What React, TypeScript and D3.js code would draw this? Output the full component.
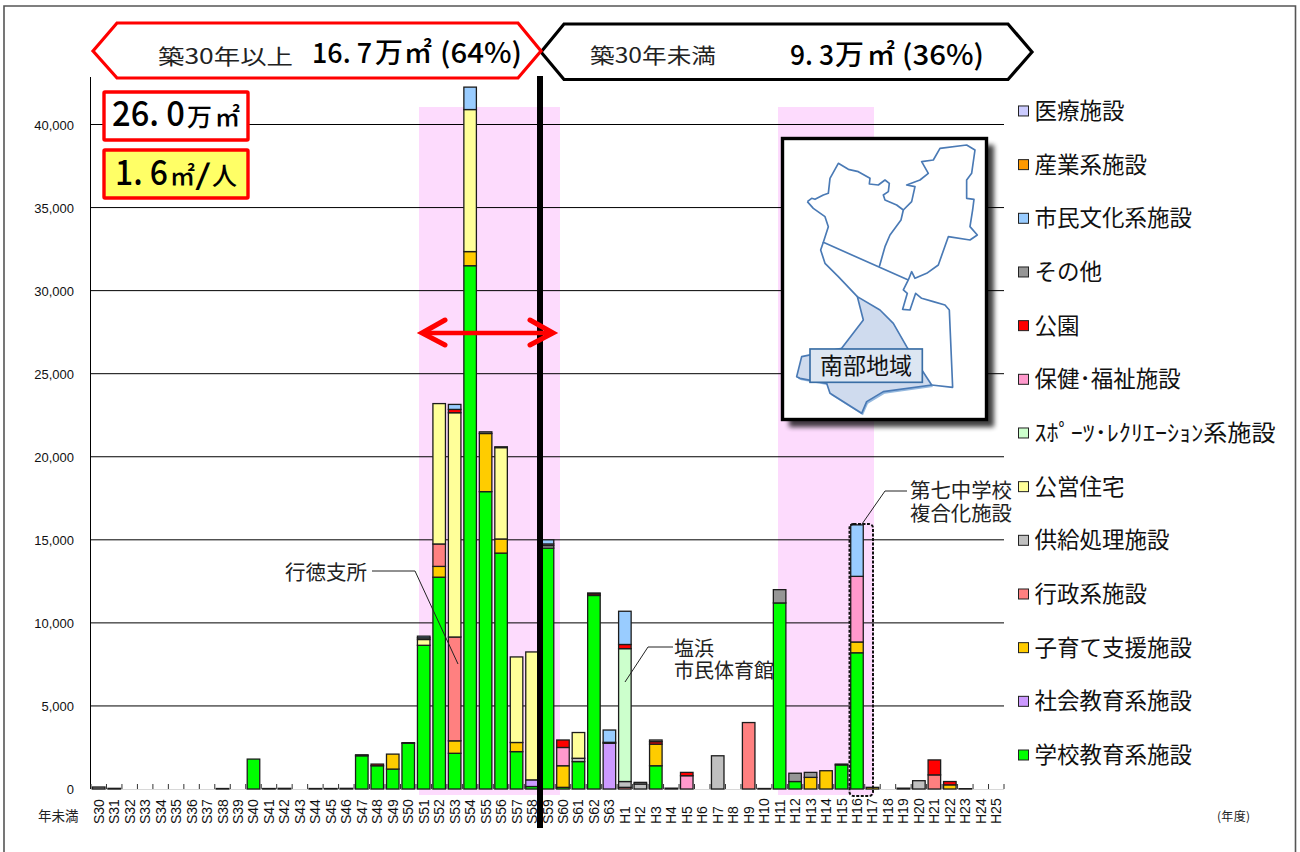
import React from "react";
import * as d3 from "d3";

const WIDTH = 1300;
const HEIGHT = 852;

// Fiscal years of construction: Showa 30-63, then Heisei 1-25.
const showaYears = d3.range(30, 64).map((n) => `S${n}`);
const heiseiYears = d3.range(1, 26).map((n) => `H${n}`);
const fiscalYears = [...showaYears, ...heiseiYears];

type Entry = [string, number];

// Floor area (m2) per fiscal year for each facility type.
const schoolEducation: Entry[] = [["S40", 1800], ["S47", 2000], ["S48", 1400], ["S49", 1200], ["S50", 2750], ["S51", 8650], ["S52", 12750], ["S53", 2150], ["S54", 31500], ["S55", 17900], ["S56", 14200], ["S57", 2250], ["S58", 150], ["S59", 14500], ["S60", 100], ["S61", 1650], ["S62", 11650], ["H3", 1400], ["H11", 11200], ["H12", 450], ["H15", 1450], ["H16", 8200]];
const socialEducation: Entry[] = [["S58", 400], ["S63", 2750]];
const childcare: Entry[] = [["S49", 900], ["S52", 650], ["S53", 750], ["S54", 850], ["S55", 3500], ["S56", 850], ["S57", 550], ["S60", 1300], ["H3", 1300], ["H13", 700], ["H14", 1100], ["H16", 650], ["H17", 100], ["H22", 250]];
const administration: Entry[] = [["S52", 1350], ["S53", 6250], ["H1", 100], ["H9", 4000], ["H19", 50], ["H21", 850]];
const supplyTreatment: Entry[] = [["S59", 150], ["S61", 200], ["H1", 350], ["H2", 300], ["H7", 2000], ["H20", 500], ["H10", 30], ["H23", 20], ["S44", 30], ["S46", 40]];
const publicHousing: Entry[] = [["S51", 350], ["S52", 8450], ["S53", 13500], ["S54", 8550], ["S56", 5500], ["S57", 5150], ["S58", 7700], ["S61", 1550]];
const sportsRecreation: Entry[] = [["H1", 8000]];
const healthWelfare: Entry[] = [["S59", 100], ["S60", 1100], ["H5", 800], ["H16", 3950]];
const parks: Entry[] = [["S48", 100], ["S53", 200], ["S60", 450], ["S62", 100], ["H1", 250], ["H3", 150], ["H5", 200], ["H21", 900], ["H22", 200]];
const others: Entry[] = [["S30", 120], ["S55", 100], ["S56", 50], ["H2", 100], ["H3", 100], ["H4", 50], ["H11", 800], ["H12", 500], ["H13", 300], ["H15", 50], ["S47", 60], ["S50", 40], ["S31", 40], ["S38", 30], ["S41", 30], ["S42", 40], ["S45", 30], ["S62", 50], ["S63", 60], ["S51", 100]];
const civicCulture: Entry[] = [["S51", 100], ["S53", 300], ["S54", 1350], ["S59", 250], ["S63", 740], ["H1", 2000], ["H16", 3100]];
const industry: Entry[] = [];
const medical: Entry[] = [];

// Stacked from the baseline upward; the legend lists them in reverse.
const seriesNames = ["学校教育系施設", "社会教育系施設", "子育て支援施設", "行政系施設", "供給処理施設", "公営住宅", "ｽﾎﾟｰﾂ･ﾚｸﾘｴｰｼｮﾝ系施設", "保健･福祉施設", "公園", "その他", "市民文化系施設", "産業系施設", "医療施設"];
const seriesValues = [schoolEducation, socialEducation, childcare, administration, supplyTreatment, publicHousing, sportsRecreation, healthWelfare, parks, others, civicCulture, industry, medical];
const seriesColors = ["#00ff00", "#cc99ff", "#ffcc00", "#ff8080", "#c0c0c0", "#ffff99", "#ccffcc", "#ff99cc", "#ff0000", "#969696", "#99ccff", "#ff9900", "#ccccff"];

const yTicks = [0, 5000, 10000, 15000, 20000, 25000, 30000, 35000, 40000];

const rows = fiscalYears.map((year) => {
  const row: Record<string, number | string> = { year };
  seriesNames.forEach((name, i) => {
    const hit = seriesValues[i].find((e) => e[0] === year);
    row[name] = hit ? hit[1] : 0;
  });
  return row;
});

const stacked = d3.stack<any>().keys(seriesNames)(rows);

const x = d3.scaleBand<string>().domain(fiscalYears).range([91, 1004]).paddingInner(0.19).paddingOuter(0.095);
const y = d3.scaleLinear().domain([0, 40000]).range([789, 124.5]);
const fmt = d3.format(",");

const JP = "'Noto Sans CJK JP', 'Noto Sans', sans-serif";
const LATIN = "'Liberation Sans', Arial, sans-serif";

// District outlines, in a 690x900 local space scaled down into the inset.
const mapNorth = "M112,215 L125,205 L135,208 L160,195 L175,190 L180,145 L205,100 L235,118 L265,125 L300,145 L298,162 L325,165 L345,150 L358,160 L355,185 L340,195 L345,210 L380,225 L400,240 L393,270 L360,315 L345,350 L328,410 M112,215 L130,235 L165,260 L175,290 L160,337 L415,450";
const mapEast = "M400,240 L425,215 L435,170 L410,165 L450,150 L475,130 L455,95 L490,90 L510,55 L590,45 L615,60 L605,130 L590,150 L590,205 L612,208 L608,240 L600,290 L622,315 L600,330 L535,320 L505,405 L470,430 L435,445 L425,425 L415,450 L400,480 L412,490 L398,538 L420,540 L437,490 L455,505 L490,515 L525,525 L538,540 L548,772 L485,765";
const mapCentral = "M160,337 L152,360 L165,400 L205,440 L262,500";
const mapSouth = "M262,500 L330,540 L370,580 L410,650 L485,765 L340,785 L290,815 L275,850 L180,790 L170,760 L90,745 L80,740 L95,680 L215,655 L280,570 Z";

function Chevron({ d, stroke }: { d: string; stroke: string }) {
  return <path d={d} fill="#fff" stroke={stroke} strokeWidth={3.2} strokeLinejoin="miter" />;
}

// One run of a heavy label, fitted to the span [x0, x1].
function Fit({ x0, x1, base, size, children }: { x0: number; x1: number; base: number; size: number; children: string }) {
  return (
    <text x={x0} y={base} fontSize={size} fontWeight={500} textLength={x1 - x0} lengthAdjust="spacingAndGlyphs" fill="#000">
      {children}
    </text>
  );
}

export default function App() {
  const legendRowY = (i: number) => 755 - i * 53.67;
  return (
    <svg width={WIDTH} height={HEIGHT} style={{ position: "absolute", left: 0, top: 0, display: "block", background: "#fff" }} fontFamily={JP}>
      <defs>
        <filter id="insetShadow" x="-10%" y="-10%" width="125%" height="125%">
          <feGaussianBlur stdDeviation="2.5" />
        </filter>
        <filter id="mapGlow" x="-10%" y="-10%" width="120%" height="120%">
          <feGaussianBlur stdDeviation="1" />
        </filter>
      </defs>

      {/* Page frame */}
      <path d="M4,852 V6 H1295.5 V852" fill="none" stroke="#555" strokeWidth={1.6} />

      {/* Highlighted construction peaks */}
      <rect x={419} y={107} width={141} height={688} fill="#fddbfd" />
      <rect x={778} y={107} width={96} height={688} fill="#fddbfd" />

      {/* Grid and axes */}
      {yTicks.slice(1).map((t) => (
        <line key={t} x1={91} x2={1004} y1={y(t)} y2={y(t)} stroke="#000" strokeWidth={1} />
      ))}
      <line x1={90.5} x2={90.5} y1={77} y2={789} stroke="#000" strokeWidth={1} />
      <line x1={91} x2={1004} y1={789.5} y2={789.5} stroke="#d8d8d8" strokeWidth={1} />
      {d3.range(fiscalYears.length + 1).map((i) => {
        const px = 91 + (i * 913) / fiscalYears.length;
        return <line key={i} x1={px} x2={px} y1={784} y2={789} stroke="#333" strokeWidth={1} />;
      })}
      {yTicks.map((t) => (
        <text key={t} x={74} y={y(t) + 5} textAnchor="end" fontFamily={LATIN} fontSize={13} fill="#111">
          {fmt(t)}
        </text>
      ))}
      {fiscalYears.map((yr) => (
        <text key={yr} transform={`translate(${x(yr)! + x.bandwidth() / 2 + 5},824) rotate(-90)`} fontFamily={LATIN} fontSize={14} fill="#111">
          {yr}
        </text>
      ))}
      <text x={38} y={821} fontSize={13.5} fill="#222">年未満</text>
      <text x={1217} y={821} fontSize={12} textLength={33} fill="#222">(年度)</text>

      {/* Stacked bars */}
      {stacked.map((layer, i) => (
        <g key={layer.key} fill={seriesColors[i]}>
          {layer.map((seg, j) =>
            seg[1] > seg[0] ? (
              <rect key={j} x={x(fiscalYears[j])} width={x.bandwidth()} y={y(seg[1])} height={y(seg[0]) - y(seg[1])} stroke="#1c1c1c" strokeWidth={1.3} />
            ) : null
          )}
        </g>
      ))}

      {/* Divider between buildings older and newer than 30 years */}
      <line x1={540} x2={540} y1={76} y2={828} stroke="#000" strokeWidth={6} />

      {/* Red double arrow */}
      <g fill="none" stroke="#ff0000" strokeLinecap="round">
        <line x1={424} x2={552} y1={333} y2={333} strokeWidth={4.5} />
        <path d="M445,320 L422,333 L445,345" strokeWidth={5} />
        <path d="M530,320 L553,333 L530,345" strokeWidth={5} />
      </g>

      {/* Period banners */}
      <Chevron d="M541,52 L564,24 H1008 L1032,52 L1008,79.5 H564 Z" stroke="#000" />
      <Chevron d="M93,51 L117,23 H518 L541,51 L518,78 H117 Z" stroke="#ff0000" />
      <text x={158} y={64} fontSize={21} textLength={135} lengthAdjust="spacingAndGlyphs" fill="#222">築30年以上</text>
      <Fit x0={312} x1={372} base={63} size={28}>16. 7</Fit>
      <Fit x0={375} x1={403} base={63} size={28}>万</Fit>
      <Fit x0={404} x1={432} base={63} size={28}>㎡</Fit>
      <Fit x0={440} x1={522} base={63} size={28}>(64%)</Fit>
      <text x={590} y={63} fontSize={21} textLength={126} lengthAdjust="spacingAndGlyphs" fill="#222">築30年未満</text>
      <Fit x0={790} x1={834} base={65} size={28}>9. 3</Fit>
      <Fit x0={835} x1={864} base={65} size={28}>万</Fit>
      <Fit x0={867} x1={895} base={65} size={28}>㎡</Fit>
      <Fit x0={902} x1={984} base={65} size={28}>(36%)</Fit>

      {/* Totals */}
      <rect x={104} y={92} width={144} height={48} rx={1} fill="#fff" stroke="#ff0000" strokeWidth={3.4} />
      <Fit x0={112} x1={185} base={126} size={35}>26. 0</Fit>
      <Fit x0={187} x1={212} base={126} size={25}>万</Fit>
      <Fit x0={215} x1={240} base={126} size={25}>㎡</Fit>
      <rect x={104} y={150} width={144} height={48} rx={1} fill="#ffff66" stroke="#ff0000" strokeWidth={3.4} />
      <Fit x0={115} x1={168} base={185} size={35}>1. 6</Fit>
      <Fit x0={170} x1={195} base={185} size={25}>㎡</Fit>
      <Fit x0={195} x1={211} base={185} size={28}>/</Fit>
      <Fit x0={212} x1={237} base={185} size={25}>人</Fit>

      {/* Callouts */}
      <text x={285} y={580} fontSize={20.5} fill="#222">行徳支所</text>
      <path d="M372,571 H415 L458,664" fill="none" stroke="#222" strokeWidth={1} />
      <text x={674} y={656} fontSize={20} fill="#222">塩浜</text>
      <text x={674} y={678} fontSize={20} fill="#222">市民体育館</text>
      <path d="M673,647 H648 L625,682" fill="none" stroke="#222" strokeWidth={1} />
      <text x={910} y={498} fontSize={20.4} fill="#222">第七中学校</text>
      <text x={910} y={521} fontSize={20.4} fill="#222">複合化施設</text>
      <path d="M907,491 H885 L862,524" fill="none" stroke="#222" strokeWidth={1} />
      <rect x={849.5} y={524} width={23.5} height={272} rx={4} fill="none" stroke="#111" strokeWidth={2} strokeDasharray="3 1.5" />

      {/* District inset */}
      <rect x={789} y={145} width={205} height={282} fill="#000" opacity={0.75} filter="url(#insetShadow)" />
      <rect x={782.5} y={138.5} width={204} height={281} fill="#fff" stroke="#000" strokeWidth={3.4} />
      <g transform="translate(770,130) scale(0.3333)">
        <path d={mapSouth} fill="#3f7fc4" opacity={0.55} transform="translate(4,6)" filter="url(#mapGlow)" />
        <path d={mapSouth} fill="#cfdbee" stroke="#4a7ab5" strokeWidth={5} strokeLinejoin="round" />
        <path d={mapNorth} fill="none" stroke="#4a7ab5" strokeWidth={5} strokeLinejoin="round" />
        <path d={mapEast} fill="none" stroke="#4a7ab5" strokeWidth={5} strokeLinejoin="round" />
        <path d={mapCentral} fill="none" stroke="#4a7ab5" strokeWidth={5} strokeLinejoin="round" />
        <rect x={120} y={657} width={337} height={100} fill="#dce6f2" stroke="#3a6ea5" strokeWidth={5} />
      </g>
      <text x={866} y={374} textAnchor="middle" fontSize={23} fill="#111">南部地域</text>

      {/* Legend */}
      {seriesNames.map((name, i) => {
        const ly = legendRowY(i);
        const narrow = name.startsWith("ｽ");
        return (
          <g key={name}>
            <rect x={1018.5} y={ly - 5} width={10} height={10} fill={seriesColors[i]} stroke="#222" strokeWidth={1} />
            <text x={1034.5} y={ly + 8} fontSize={22.5} fill="#111" {...(narrow ? { textLength: 241, lengthAdjust: "spacingAndGlyphs" as const } : {})}>
              {name}
            </text>
          </g>
        );
      })}
    </svg>
  );
}
